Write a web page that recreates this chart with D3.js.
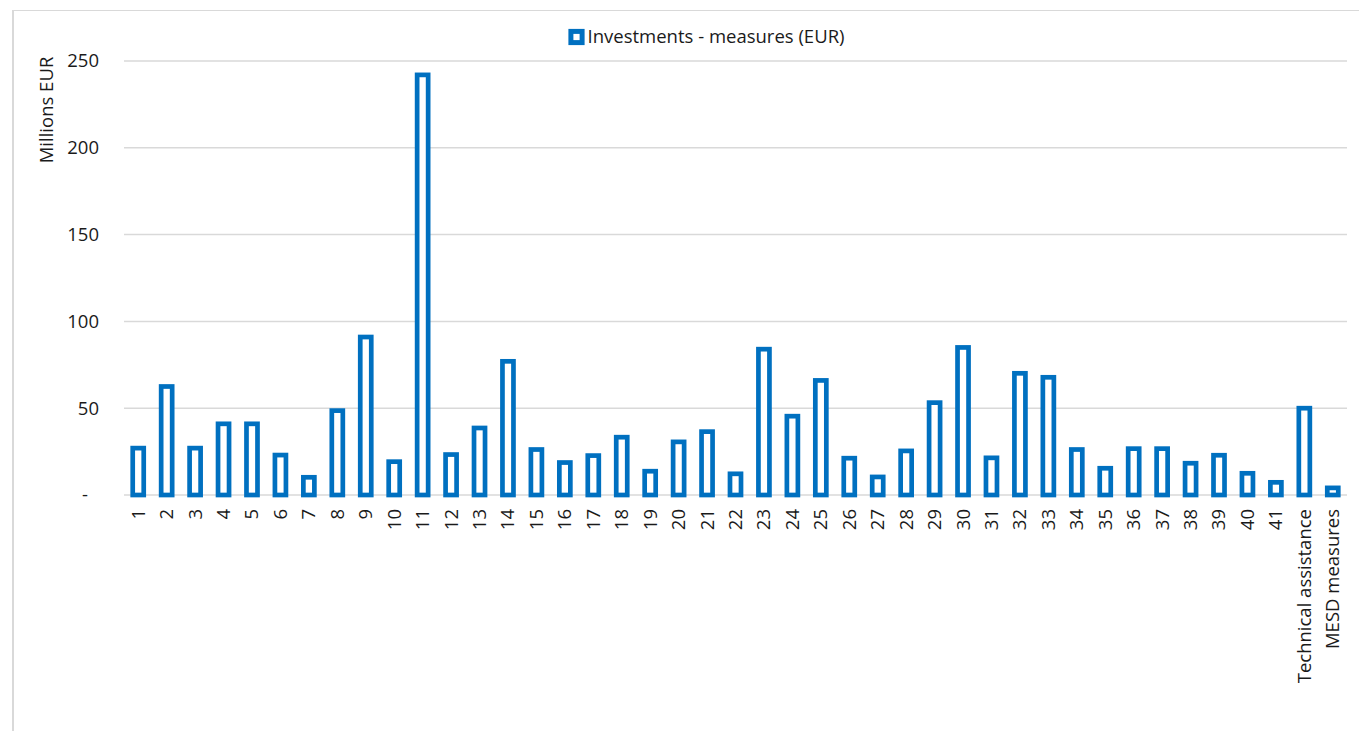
<!DOCTYPE html>
<html>
<head>
<meta charset="utf-8">
<script src="https://cdn.jsdelivr.net/npm/d3@7"></script>
<style>
  html, body { margin: 0; padding: 0; background: #fff; }
  svg { display: block; }
  text { font-family: "Open Sans", "Noto Sans", sans-serif; fill: #1a1a1a; }
</style>
</head>
<body>
<svg id="chart" width="1359" height="731"></svg>
<script>
// Investment per measure, millions of EUR
const categories = ["1","2","3","4","5","6","7","8","9","10",
  "11","12","13","14","15","16","17","18","19","20",
  "21","22","23","24","25","26","27","28","29","30",
  "31","32","33","34","35","36","37","38","39","40",
  "41","Technical assistance","MESD measures"];
const investments = [27, 62.5, 27, 41, 41, 23, 10.2, 48.6, 91, 19.2,
  242, 23.3, 38.6, 77, 26.2, 18.7, 22.7, 33.3, 13.7, 30.6,
  36.5, 12.2, 84, 45.4, 66, 21.2, 10.4, 25.4, 53.2, 85,
  21.4, 70.1, 67.8, 26.2, 15.4, 26.7, 26.7, 18.3, 22.9, 12.5,
  7.3, 50, 4.1];
const yTicks = [0, 50, 100, 150, 200, 250];
const seriesName = "Investments - measures (EUR)";
const axisTitle = "Millions EUR";

const blue = "#0070C0";
const grid = "#d9d9d9";
const svg = d3.select("#chart");

const plot = { left: 124, right: 1347, top: 61, bottom: 495 };

// chart area frame
svg.append("line").attr("x1", 13).attr("x2", 13).attr("y1", 10).attr("y2", 731)
  .attr("stroke", grid).attr("stroke-width", 2);
svg.append("line").attr("x1", 12).attr("x2", 1359).attr("y1", 10.5).attr("y2", 10.5)
  .attr("stroke", grid).attr("stroke-width", 1.2);

const x = d3.scaleBand()
  .domain(categories)
  .range([plot.left, plot.right])
  .paddingInner(0.613)
  .paddingOuter(0.3065);

const y = d3.scaleLinear().domain([0, 250]).range([plot.bottom, plot.top]);

// gridlines
svg.append("g").selectAll("line").data(yTicks).join("line")
  .attr("x1", plot.left).attr("x2", plot.right)
  .attr("y1", d => y(d)).attr("y2", d => y(d))
  .attr("stroke", grid).attr("stroke-width", 1.5);

// y axis labels
const yAxis = d3.axisLeft(y).tickValues(yTicks)
  .tickFormat(d => d === 0 ? "-" : d3.format("d")(d))
  .tickSize(0).tickPadding(0);
const yg = svg.append("g").attr("transform", "translate(99,0)").call(yAxis);
yg.select(".domain").remove();
yg.selectAll("text")
  .style("font-family", "'Open Sans', 'Noto Sans', sans-serif")
  .style("font-size", "18.5px")
  .attr("fill", "#1a1a1a")
  .attr("dx", d => d === 0 ? -11 : 0);

// y axis title
svg.append("text")
  .attr("transform", "translate(53,110) rotate(-90)")
  .attr("text-anchor", "middle")
  .style("font-size", "18.5px")
  .text(axisTitle);

// bars: outlined columns
svg.append("g").selectAll("rect").data(investments).join("rect")
  .attr("x", (d, i) => x(categories[i]))
  .attr("width", x.bandwidth())
  .attr("y", d => y(d))
  .attr("height", d => y(0) - y(d))
  .attr("fill", "#fff")
  .attr("stroke", blue)
  .attr("stroke-width", 4.7);

// x axis labels
const xAxis = d3.axisBottom(x).tickSize(0).tickPadding(0);
const xg = svg.append("g").attr("transform", "translate(0,509)").call(xAxis);
xg.select(".domain").remove();
xg.selectAll("text")
  .style("font-family", "'Open Sans', 'Noto Sans', sans-serif")
  .style("font-size", "18.5px")
  .attr("fill", "#1a1a1a")
  .attr("text-anchor", "end")
  .attr("transform", "rotate(-90)")
  .attr("x", 0)
  .attr("y", 0)
  .attr("dy", "0.35em");

// legend
const legend = svg.append("g").attr("transform", "translate(576.5,37)");
legend.append("rect")
  .attr("x", -5.6).attr("y", -5.6).attr("width", 11.2).attr("height", 11.2)
  .attr("fill", "#fff").attr("stroke", blue).attr("stroke-width", 5);
legend.append("text")
  .attr("x", 11).attr("y", 0).attr("dy", "0.35em")
  .style("font-size", "18.5px")
  .text(seriesName);
</script>
</body>
</html>
